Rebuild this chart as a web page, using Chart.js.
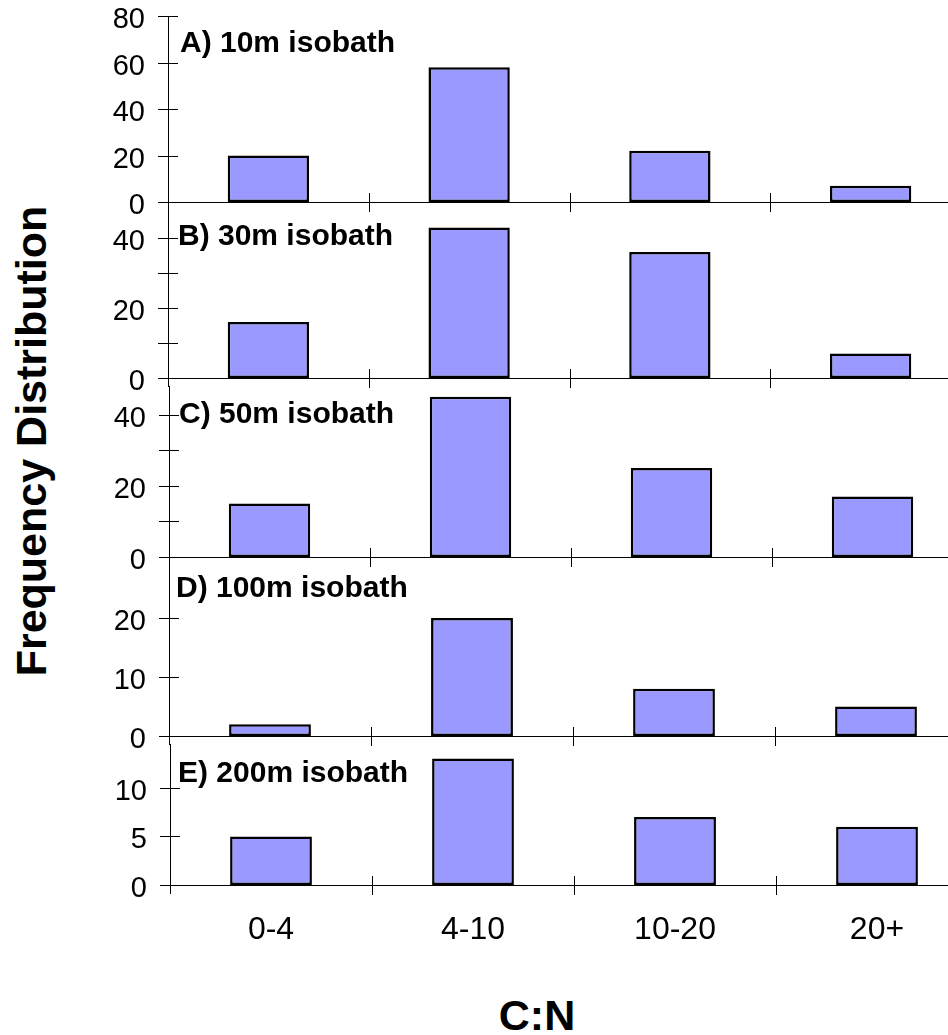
<!DOCTYPE html>
<html>
<head>
<meta charset="utf-8">
<script src="https://cdn.jsdelivr.net/npm/chart.js@4.4.1/dist/chart.umd.min.js"></script>
<style>
  html, body { margin: 0; padding: 0; background: #fff; }
  body { width: 948px; height: 1035px; overflow: hidden; position: relative;
         font-family: "Liberation Sans", Arial, sans-serif; color: #000; }
  .panel { position: absolute; left: 0; }
  .panel canvas { display: block; }
  .axis-title { position: absolute; font-weight: bold; font-size: 43px; line-height: 1;
                white-space: nowrap; }
  #ytitle { left: 31px; top: 441px; transform: translate(-50%, -50%) rotate(-90deg); }
  #xtitle { left: 537px; top: 1015px; transform: translate(-50%, -50%); }
</style>
</head>
<body>
<div class="axis-title" id="ytitle">Frequency Distribution</div>
<div class="axis-title" id="xtitle">C:N</div>
<script>
// C:N ratio classes shared by every panel
const categories = ['0-4', '4-10', '10-20', '20+'];
const panelTitles = ['A) 10m isobath', 'B) 30m isobath', 'C) 50m isobath', 'D) 100m isobath', 'E) 200m isobath'];

// frequency counts per isobath
const count10m  = [20, 58, 22, 7];
const count30m  = [16, 43, 36, 7];
const count50m  = [15, 45, 25, 17];
const count100m = [2, 20, 8, 5];
const count200m = [5, 13, 7, 6];

// value axis range, tick spacing and label spacing per panel
const axisMax   = [80, 48, 48, 29, 14.5];
const tickStep  = [20, 10, 10, 10, 5];
const labelStep = [20, 20, 20, 10, 5];

const seriesList = [count10m, count30m, count50m, count100m, count200m];

// page placement of each panel's plot area
const frames = [
  { left: 168, cat: 200.7, top: 16,  zero: 202, titleX: 180, titleY: 52 },
  { left: 168, cat: 200.7, top: 210, zero: 378, titleX: 178, titleY: 245 },
  { left: 169, cat: 201,   top: 386, zero: 557, titleX: 179, titleY: 423 },
  { left: 169, cat: 202,   top: 565, zero: 736, titleX: 176, titleY: 597 },
  { left: 170, cat: 202,   top: 744, zero: 885, titleX: 178, titleY: 782 }
];

const FONT = '"Liberation Sans", Arial, sans-serif';
// room around the plot area for the value labels (half a label + tick padding)
const PAD_TOP = 46, PAD_BOTTOM = 46, XAXIS_H = 75;

// axis lines, crossing tick marks and the panel caption
const panelDecor = {
  id: 'panelDecor',
  afterDraw(chart, args, opts) {
    const { ctx, chartArea: a, scales: { x, y } } = chart;
    const y0 = Math.round(y.getPixelForValue(0));
    const yTop = Math.round(a.top);
    const xl = Math.round(a.left);
    ctx.save();
    ctx.fillStyle = '#000';
    // value axis, running a little past zero to meet the panel below
    ctx.fillRect(xl, yTop, 1, y0 + 9 - yTop);
    // baseline
    ctx.fillRect(xl - 10, y0, chart.width - xl + 10, 1);
    // value ticks crossing the axis
    y.ticks.forEach(t => {
      const py = Math.round(y.getPixelForValue(t.value));
      ctx.fillRect(xl - 10, py, 20, 1);
    });
    // category boundary ticks
    for (let i = 1; i < x.ticks.length; i++) {
      const px = Math.round((x.getPixelForTick(i - 1) + x.getPixelForTick(i)) / 2);
      ctx.fillRect(px, y0 - 9, 1, 19);
    }
    // panel caption
    ctx.font = 'bold 30px ' + FONT;
    ctx.textBaseline = 'alphabetic';
    ctx.textAlign = 'left';
    ctx.fillText(opts.text, opts.x, opts.y);
    ctx.restore();
  }
};

frames.forEach((f, i) => {
  const last = i === frames.length - 1;
  const w = Math.ceil(f.left + 4 * f.cat);
  const h = PAD_TOP + (f.zero - f.top) + (last ? XAXIS_H : PAD_BOTTOM);
  const boxTop = f.top - PAD_TOP;
  const box = document.createElement('div');
  box.className = 'panel';
  box.style.width = w + 'px';
  box.style.height = h + 'px';
  box.style.top = boxTop + 'px';
  const canvas = document.createElement('canvas');
  box.appendChild(canvas);
  document.body.appendChild(box);

  new Chart(canvas, {
    type: 'bar',
    data: {
      labels: categories,
      datasets: [{
        data: seriesList[i],
        backgroundColor: '#9999ff',
        borderColor: '#000',
        borderWidth: 2.5,
        borderSkipped: false,
        barPercentage: 0.405,
        categoryPercentage: 1.0
      }]
    },
    options: {
      responsive: true,
      maintainAspectRatio: false,
      animation: false,
      devicePixelRatio: 1,
      layout: { padding: { top: PAD_TOP, bottom: last ? 0 : PAD_BOTTOM, left: 0, right: 0 } },
      plugins: {
        legend: { display: false },
        tooltip: { enabled: false },
        panelDecor: { text: panelTitles[i], x: f.titleX, y: f.titleY - boxTop }
      },
      scales: {
        x: {
          display: last,
          grid: { display: false, drawTicks: false },
          border: { display: false },
          ticks: { color: '#000', font: { family: FONT, size: 32 }, padding: 26, maxRotation: 0 },
          afterFit(scale) { scale.height = last ? XAXIS_H : 0; }
        },
        y: {
          min: 0,
          max: axisMax[i],
          grid: { display: false, drawTicks: false },
          border: { display: false },
          ticks: {
            stepSize: tickStep[i],
            includeBounds: false,
            color: '#000',
            font: { family: FONT, size: 29 },
            padding: 23,
            labelOffset: 4,
            callback: v => (v % labelStep[i] === 0 ? v : '')
          },
          afterFit(scale) { scale.width = f.left; }
        }
      }
    },
    plugins: [panelDecor]
  });
});
</script>
</body>
</html>
